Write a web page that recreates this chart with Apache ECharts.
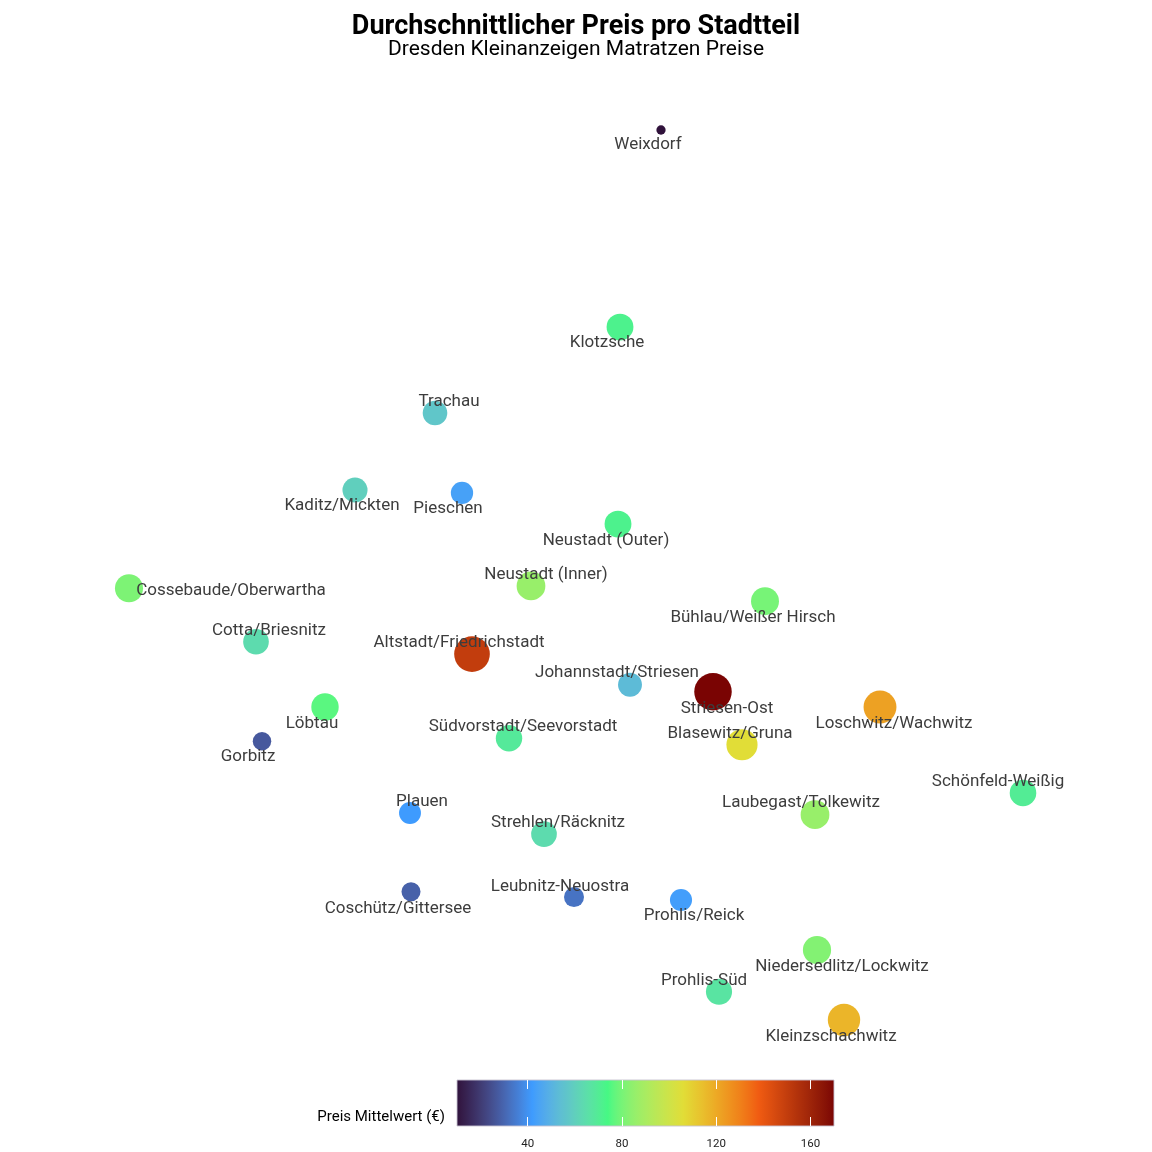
<!DOCTYPE html>
<html><head><meta charset="utf-8">
<script src="https://cdn.jsdelivr.net/npm/echarts@6/dist/echarts.min.js"></script>
<style>html,body{margin:0;padding:0;background:#fff}#c{width:1152px;height:1152px}</style>
</head><body><div id="c"></div>
<script>
// ---- data ----
const districts = ['Weixdorf','Klotzsche','Trachau','Kaditz/Mickten','Pieschen','Neustadt (Outer)','Cossebaude/Oberwartha','Neustadt (Inner)','Bühlau/Weißer Hirsch','Cotta/Briesnitz','Altstadt/Friedrichstadt','Johannstadt/Striesen','Striesen-Ost','Loschwitz/Wachwitz','Löbtau','Südvorstadt/Seevorstadt','Blasewitz/Gruna','Gorbitz','Schönfeld-Weißig','Laubegast/Tolkewitz','Plauen','Strehlen/Räcknitz','Coschütz/Gittersee','Leubnitz-Neuostra','Prohlis/Reick','Niedersedlitz/Lockwitz','Prohlis-Süd','Kleinzschachwitz'];
const lon = [13.7880,13.7757,13.7202,13.6962,13.7283,13.7751,13.6284,13.7490,13.8192,13.6665,13.7313,13.7787,13.8036,13.8537,13.6872,13.7424,13.8123,13.6683,13.8966,13.8342,13.7127,13.7529,13.7130,13.7619,13.7940,13.8348,13.8054,13.8429];
const lat = [51.1399,51.1064,51.0918,51.0787,51.0782,51.0729,51.0620,51.0624,51.0598,51.0529,51.0508,51.0456,51.0444,51.0418,51.0418,51.0365,51.0354,51.0360,51.0272,51.0235,51.0238,51.0202,51.0104,51.0095,51.0090,51.0005,50.9934,50.9886];
const price = [10,72,57,60,44,72,81,86,80,64,150,53,170,122,76,69,106,27,70,86,42,64,29,33,43,82,67,117];
const colorbarTicks = [40, 80, 120, 160];
const paletteStops = ['#30123B','#3E9BFE','#46F884','#E1DD37','#F05B12','#7A0403'];

// ---- layout (label offsets from point centre, px) ----
const labelOffsets = [[-13,13],[-13,14],[14,-13],[-13,14],[-14,14],[-12,15],[102,1],[15,-13],[-12,15],[13,-13],[-13,-13],[-13,-13],[14,15],[14,15],[-13,15],[14,-13],[-12,-12],[-14,14],[-25,-13],[-14,-13],[12,-13],[14,-13],[-13,15],[-14,-12],[13,14],[25,15],[-15,-13],[-13,15]];
const labelShiftY = 1.5;

// ---- Lab interpolation of palette (like ggplot gradientn) ----
function hexToRgb(h){h=h.replace('#','');return [0,2,4].map(i=>parseInt(h.substr(i,2),16));}
function s2l(c){c/=255;return c<=0.04045?c/12.92:Math.pow((c+0.055)/1.055,2.4);}
function l2s(c){const v=c<=0.0031308?12.92*c:1.055*Math.pow(c,1/2.4)-0.055;return Math.round(Math.max(0,Math.min(1,v))*255);}
function f(t){return t>0.008856?Math.cbrt(t):7.787*t+16/116;}
function fi(t){const t3=t*t*t;return t3>0.008856?t3:(t-16/116)/7.787;}
function rgbToLab(rgb){const R=s2l(rgb[0]),G=s2l(rgb[1]),B=s2l(rgb[2]);
 const X=(0.4124*R+0.3576*G+0.1805*B)/0.95047,Y=0.2126*R+0.7152*G+0.0722*B,Z=(0.0193*R+0.1192*G+0.9505*B)/1.08883;
 const fx=f(X),fy=f(Y),fz=f(Z);return [116*fy-16,500*(fx-fy),200*(fy-fz)];}
function labToRgb(lab){const fy=(lab[0]+16)/116,fx=fy+lab[1]/500,fz=fy-lab[2]/200;
 const X=fi(fx)*0.95047,Y=fi(fy),Z=fi(fz)*1.08883;
 const R=3.2406*X-1.5372*Y-0.4986*Z,G=-0.9689*X+1.8758*Y+0.0415*Z,B=0.0557*X-0.2040*Y+1.0570*Z;
 return 'rgb('+l2s(R)+','+l2s(G)+','+l2s(B)+')';}
const labs = paletteStops.map(h=>rgbToLab(hexToRgb(h)));
const N = 81, ramp = [];
for(let i=0;i<N;i++){const t=i/(N-1)*(labs.length-1);const k=Math.min(Math.floor(t),labs.length-2);const u=t-k;
 ramp.push(labToRgb([0,1,2].map(j=>labs[k][j]+(labs[k+1][j]-labs[k][j])*u)));}

const vmin = Math.min(...price), vmax = Math.max(...price);
const dMin = 9.3, dMax = 37.5;

const chart = echarts.init(document.getElementById('c'), null, {renderer:'canvas'});
chart.setOption({
 animation:false,
 backgroundColor:'#fff',
 title:{text:'Durchschnittlicher Preis pro Stadtteil',subtext:'Dresden Kleinanzeigen Matratzen Preise',left:'center',top:9,itemGap:-2,
  textStyle:{fontSize:27,fontWeight:'bold',fontFamily:'Roboto',color:'#000'},
  subtextStyle:{fontSize:21,fontFamily:'Roboto',color:'#000'}},
 grid:[{left:0,top:0,width:1152,height:1152},{left:457,top:1080,width:377,height:46}],
 xAxis:[
  {gridIndex:0,type:'value',min:13.5897,max:13.9353,show:false},
  {gridIndex:1,type:'value',min:vmin,max:vmax,z:10,axisLine:{show:false},splitLine:{show:false},
   axisTick:{show:true,inside:true,length:9,lineStyle:{color:'#fff',width:1},customValues:colorbarTicks},
   axisLabel:{show:true,customValues:colorbarTicks,fontSize:11.5,fontFamily:'Roboto',color:'#222',margin:12}},
  {gridIndex:1,type:'value',position:'top',min:vmin,max:vmax,z:10,axisLine:{show:false},splitLine:{show:false},
   axisTick:{show:true,inside:true,length:9,lineStyle:{color:'#fff',width:1},customValues:colorbarTicks},
   axisLabel:{show:false}}
 ],
 yAxis:[
  {gridIndex:0,type:'value',min:50.96616,max:51.162,show:false},
  {gridIndex:1,type:'value',min:0,max:1,show:false}
 ],
 visualMap:{type:'continuous',show:false,seriesIndex:0,dimension:2,min:vmin,max:vmax,inRange:{color:ramp}},
 graphic:[{type:'text',x:445,y:1117,style:{text:'Preis Mittelwert (€)',align:'right',verticalAlign:'middle',font:'15px Roboto',fill:'#000'}}],
 series:[
  {type:'scatter',xAxisIndex:0,yAxisIndex:0,
   symbolSize:function(v){return dMin+(dMax-dMin)*Math.sqrt((v[2]-vmin)/(vmax-vmin));},
   itemStyle:{opacity:1},
   label:{show:true,position:'inside',formatter:'{b}',color:'#3d3d3d',fontSize:17,fontFamily:'Roboto'},
   emphasis:{disabled:true},
   data:districts.map((d,i)=>({name:d,value:[lon[i],lat[i],price[i]],label:{offset:[labelOffsets[i][0],labelOffsets[i][1]+labelShiftY]}}))
  },
  {type:'custom',xAxisIndex:1,yAxisIndex:1,silent:true,z:2,data:[[vmin,vmax]],
   renderItem:function(params,api){
    const a=api.coord([api.value(0),0]),b=api.coord([api.value(1),1]);
    return {type:'rect',shape:{x:a[0],y:b[1],width:b[0]-a[0],height:a[1]-b[1]},
     style:{fill:new echarts.graphic.LinearGradient(0,0,1,0,ramp.map((c,i)=>({offset:i/(ramp.length-1),color:c}))),stroke:'rgba(200,195,210,0.9)',lineWidth:1}};
   }}
 ]
});
</script></body></html>
